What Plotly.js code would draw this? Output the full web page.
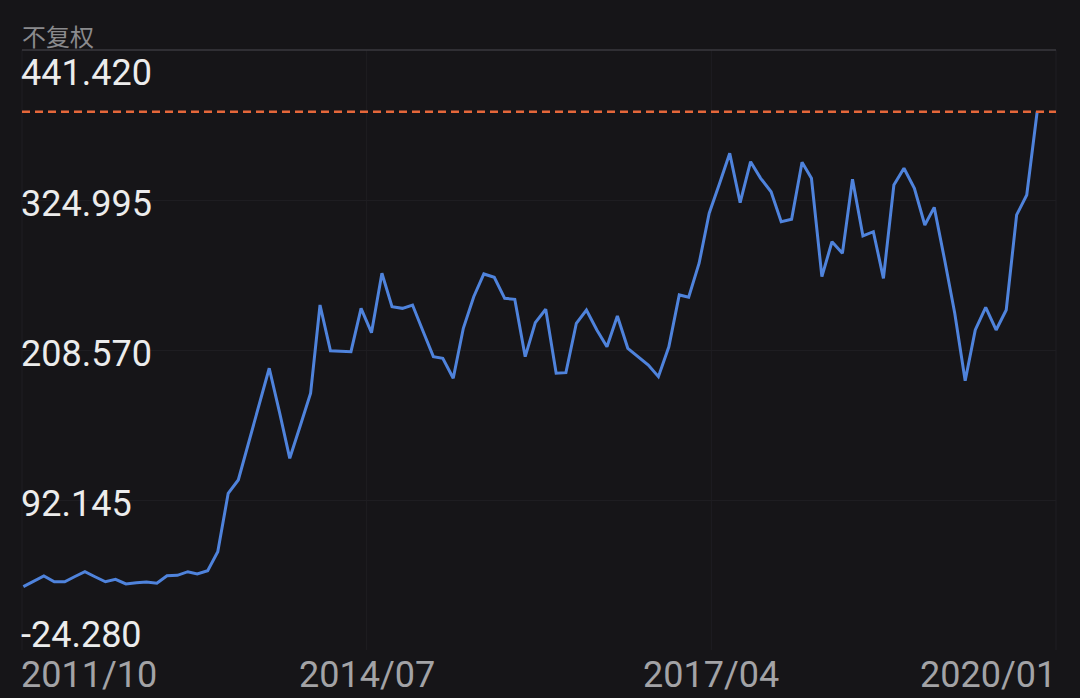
<!DOCTYPE html>
<html>
<head>
<meta charset="utf-8">
<script src="https://cdn.plot.ly/plotly-3.0.1.min.js"></script>
<style>
  html, body { margin: 0; padding: 0; background: #161518; }
  #chart { width: 1080px; height: 698px; }
</style>
</head>
<body>
<div id="chart"></div>
<script>
// ---- data ----
const startYear = 2011;
const startMonth = 10; // first data point 2011/10, monthly, last 2020/01
const prices = [
  24.9, 29.0, 33.2, 28.7, 28.7, 32.6, 36.5, 32.6, 28.7, 30.6,
  27.0, 28.0, 28.5, 27.5, 33.4, 33.7, 36.5, 34.7, 37.3, 52.0,
  97.3, 107.7, 136.4, 165.9, 194.4, 159.7, 124.5, 149.6, 175.0, 243.5,
  208.0, 207.6, 207.3, 240.9, 222.0, 268.1, 242.2, 240.9, 243.5, 223.3,
  203.4, 202.1, 186.6, 225.4, 249.9, 267.6, 265.0, 248.7, 247.9, 203.4,
  229.8, 240.2, 190.5, 191.0, 229.3, 239.6, 224.1, 211.1, 235.0, 209.9,
  203.4, 196.9, 187.9, 211.1, 251.3, 249.5, 275.9, 314.7, 338.0, 361.2,
  322.9, 354.7, 341.8, 331.4, 308.2, 310.0, 354.3, 341.8, 265.5, 292.6,
  283.6, 341.1, 297.1, 300.4, 264.2, 336.6, 349.6, 334.1, 305.6, 319.3,
  278.4, 237.1, 184.7, 224.1, 241.7, 224.1, 239.6, 313.4, 328.9, 393.5
];
const yTickVals = [441.42, 324.995, 208.57, 92.145, -24.28];
const yTickText = ['441.420', '324.995', '208.570', '92.145', '-24.280'];
const xTickText = ['2011/10', '2014/07', '2017/04', '2020/01'];
const priceTypeLabel = '不复权';

// month dates for each price point
const dates = prices.map((_, i) => {
  const m0 = startMonth - 1 + i;
  const y = startYear + Math.floor(m0 / 12);
  const m = (m0 % 12) + 1;
  return y + '-' + String(m).padStart(2, '0') + '-01';
});

const maxVal = Math.max(...prices);

const trace = {
  x: dates,
  y: prices,
  type: 'scatter',
  mode: 'lines',
  line: { color: '#4f83dc', width: 3 },
  hoverinfo: 'skip'
};

const annotations = [];
const yShift = [-23, -4, -4, -4, 15];
yTickVals.forEach((v, i) => {
  annotations.push({
    xref: 'paper', yref: 'y', x: 0, y: v,
    xanchor: 'left', yanchor: 'middle', yshift: yShift[i], xshift: -3,
    text: yTickText[i], showarrow: false,
    font: { family: 'Roboto, sans-serif', size: 36, color: '#ececec' }
  });
});
const xPos = [0, 1/3, 2/3, 1];
const xAnch = ['left', 'center', 'center', 'right'];
xTickText.forEach((t, i) => {
  annotations.push({
    xref: 'paper', yref: 'paper', x: xPos[i], y: 0,
    xanchor: xAnch[i], yanchor: 'middle', yshift: -25, xshift: i === 0 ? -3 : (i === 3 ? 2 : 0),
    text: t, showarrow: false,
    font: { family: 'Roboto, sans-serif', size: 36, color: '#a3a3a6' }
  });
});
annotations.push({
  xref: 'paper', yref: 'paper', x: 0, y: 1,
  xanchor: 'left', yanchor: 'middle', yshift: 15, xshift: -2,
  text: priceTypeLabel, showarrow: false,
  font: { family: 'Noto Sans CJK SC, sans-serif', size: 24, color: '#8a8a8d' }
});

const shapes = [];
[0, 1/3, 2/3, 1].forEach(p => {
  shapes.push({
    type: 'line', xref: 'paper', yref: 'paper', x0: p, x1: p, y0: 0, y1: 1,
    line: { color: '#1f1e22', width: 1 }, layer: 'below'
  });
});
shapes.push({
  type: 'line', xref: 'paper', yref: 'paper', x0: 0, x1: 1, y0: 1, y1: 1,
  line: { color: '#3a393e', width: 1.5 }, layer: 'below'
});
shapes.push({
  type: 'line', xref: 'paper', yref: 'y', x0: 0, x1: 1, y0: maxVal, y1: maxVal,
  line: { color: '#e5673a', width: 2.5, dash: '8px,5px' }
});

const layout = {
  width: 1080, height: 698,
  paper_bgcolor: '#161518',
  plot_bgcolor: '#161518',
  margin: { l: 22, r: 24, t: 50, b: 48, pad: 0 },
  showlegend: false,
  xaxis: {
    type: 'date',
    range: ['2011-09-27', '2020-02-26'],
    showgrid: false, zeroline: false, showline: false,
    showticklabels: false, ticks: ''
  },
  yaxis: {
    range: [yTickVals[4], yTickVals[0]],
    tickvals: yTickVals,
    showgrid: true, gridcolor: '#1e1d21', gridwidth: 1,
    zeroline: false, showline: false,
    showticklabels: false, ticks: ''
  },
  annotations: annotations,
  shapes: shapes
};

Plotly.newPlot('chart', [trace], layout, { displayModeBar: false, staticPlot: true });
</script>
</body>
</html>
